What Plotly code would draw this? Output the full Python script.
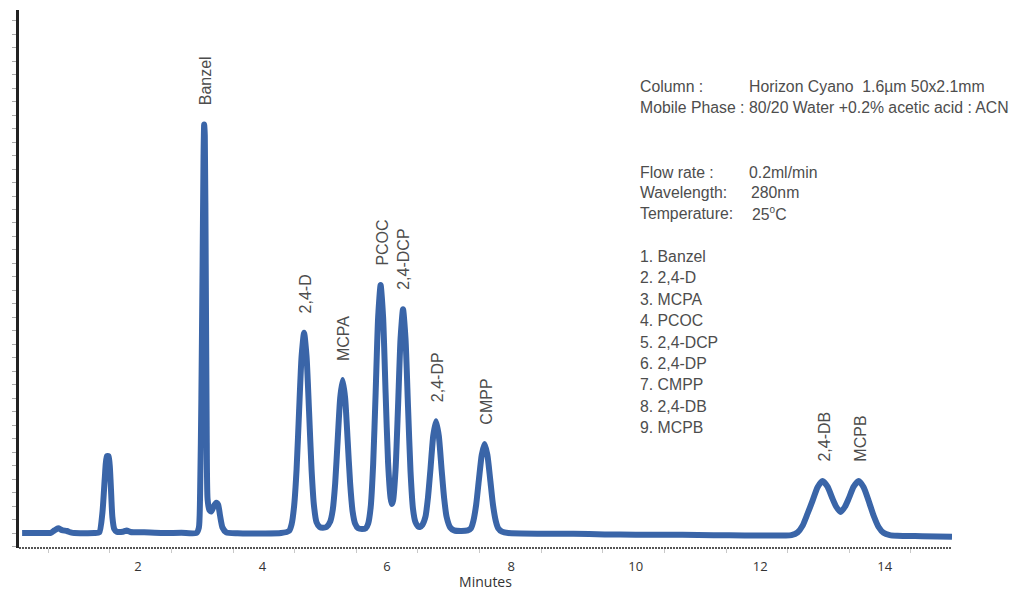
import plotly.graph_objects as go

# 크로마토그램 트레이스 (분, 신호)
time_min = [0.14, 0.40, 0.60, 0.66, 0.72, 0.78, 0.86, 0.92, 0.98, 1.30,
            1.38, 1.43, 1.47, 1.50, 1.53, 1.56, 1.59, 1.62, 1.66, 1.76,
            1.82, 1.88, 2.10, 2.40, 2.70, 2.94, 2.98, 3.00, 3.02, 3.04,
            3.055, 3.065, 3.075, 3.09, 3.105, 3.12, 3.15, 3.18, 3.22, 3.26,
            3.29, 3.32, 3.36, 3.42, 3.60, 4.00, 4.30, 4.43, 4.47, 4.51,
            4.55, 4.59, 4.63, 4.67, 4.71, 4.75, 4.79, 4.83, 4.87, 4.92,
            4.97, 5.03, 5.09, 5.13, 5.17, 5.21, 5.25, 5.29, 5.33, 5.37,
            5.41, 5.45, 5.49, 5.54, 5.60, 5.66, 5.70, 5.74, 5.78, 5.82,
            5.86, 5.90, 5.94, 5.98, 6.02, 6.06, 6.08, 6.10, 6.14, 6.18,
            6.22, 6.26, 6.30, 6.34, 6.38, 6.42, 6.46, 6.50, 6.53, 6.57,
            6.62, 6.66, 6.70, 6.745, 6.79, 6.835, 6.88, 6.92, 6.96, 7.02,
            7.08, 7.20, 7.30, 7.35, 7.39, 7.435, 7.48, 7.525, 7.57, 7.615,
            7.66, 7.705, 7.75, 7.79, 7.85, 7.95, 8.50, 9.00, 9.50, 10.00,
            10.50, 11.00, 11.50, 12.00, 12.40, 12.50, 12.60, 12.68, 12.76, 12.84,
            12.92, 13.00, 13.08, 13.16, 13.22, 13.29, 13.36, 13.42, 13.50, 13.58,
            13.66, 13.74, 13.82, 13.90, 13.98, 14.08, 14.20, 14.60, 15.08]
signal = [0.0, 0.0, 0.02, 0.2, 0.35, 0.22, 0.15, 0.05, 0.0, 0.0,
          0.05, 1.5, 4.2, 5.7, 5.7, 4.0, 1.2, 0.3, 0.1, 0.1,
          0.18, 0.08, 0.05, 0.0, 0.02, 0.0, 0.4, 3.0, 10.0, 20.0,
          28.0, 30.3, 29.5, 20.0, 8.0, 2.5, 1.7, 1.6, 2.0, 2.25,
          2.1, 1.3, 0.4, 0.05, -0.02, -0.03, 0.0, 0.16, 0.65, 2.0,
          4.75, 9.05, 13.1, 14.85, 13.1, 9.05, 4.75, 2.0, 0.8, 0.45,
          0.4, 0.45, 0.85, 1.7, 3.7, 6.9, 10.0, 11.36, 10.0, 6.9,
          3.7, 1.6, 0.7, 0.35, 0.3, 0.35, 0.7, 1.9, 5.1, 10.4,
          16.0, 18.4, 16.0, 10.4, 5.2, 2.6, 2.15, 2.4, 4.7, 9.4,
          14.4, 16.6, 14.4, 9.4, 4.6, 1.8, 0.8, 0.5, 0.45, 0.6,
          1.2, 2.6, 4.7, 7.2, 8.3, 7.2, 4.7, 2.6, 1.2, 0.4,
          0.2, 0.15, 0.2, 0.35, 0.9, 2.1, 4.0, 5.8, 6.6, 5.8,
          4.0, 2.1, 0.9, 0.35, 0.1, 0.0, -0.05, -0.06, -0.1, -0.12,
          -0.12, -0.15, -0.17, -0.18, -0.19, -0.16, 0.05, 0.55, 1.45, 2.4,
          3.4, 3.86, 3.44, 2.55, 1.95, 1.56, 1.95, 2.55, 3.44, 3.86,
          3.4, 2.4, 1.3, 0.45, 0.02, -0.15, -0.2, -0.23, -0.27]

# 피크 라벨
peak_names = ['Banzel', '2,4-D', 'MCPA', 'PCOC', '2,4-DCP', '2,4-DP', 'CMPP', '2,4-DB', 'MCPB']
peak_rt = [3.065, 4.67, 5.29, 5.90, 6.26, 6.79, 7.57, 13.00, 13.58]
peak_height = [30.3, 14.85, 11.36, 18.4, 16.6, 8.3, 6.6, 3.86, 3.86]

# 분석 조건
cond_labels = ['Column :', 'Mobile Phase : 80/20 Water +0.2% acetic acid : ACN',
               'Flow rate :', 'Wavelength:', 'Temperature:']
cond_values = ['Horizon Cyano  1.6µm 50x2.1mm', '', '0.2ml/min', '280nm',
               '25<sup><span style="font-size:10px">o</span></sup>C']

x_ticks = [2, 4, 6, 8, 10, 12, 14]

# 페이지 body 여백(8px) 보정
OFF = 8
W, H = 1020 - OFF, 591 - OFF
L, R, T, B = 19 - OFF, 68, 10 - OFF, 43
pw, ph = W - L - R, H - T - B


def px(x):
    return (x - OFF - L) / pw


def py(y):
    return (H + OFF - B - y) / ph


fig = go.Figure()
fig.add_trace(go.Scatter(x=time_min, y=signal, mode='lines',
                         line=dict(color='#3a65a8', width=6, shape='spline', smoothing=0.6),
                         hoverinfo='skip', showlegend=False))

text_font = dict(family='Liberation Sans, Arial', size=15.8, color='#4d4d4d')

for name, rt, h in zip(peak_names, peak_rt, peak_height):
    fig.add_annotation(x=rt, y=h, text=name, showarrow=False, textangle=-90,
                       xanchor='center', yanchor='bottom', yshift=17, xshift=1,
                       font=dict(family='Liberation Sans, Arial', size=16, color='#4d4d4d'))

cond_y = [86, 107.5, 172.5, 192, 213.5]
cond_vx = [747, 747, 747, 749, 750]
for lab, val, yy, vx in zip(cond_labels, cond_values, cond_y, cond_vx):
    fig.add_annotation(xref='paper', yref='paper', x=px(638), y=py(yy), text=lab,
                       showarrow=False, xanchor='left', yanchor='middle', font=text_font)
    if val:
        fig.add_annotation(xref='paper', yref='paper', x=px(vx), y=py(yy), text=val,
                           showarrow=False, xanchor='left', yanchor='middle', font=text_font)

for i, name in enumerate(peak_names):
    fig.add_annotation(xref='paper', yref='paper', x=px(638), y=py(256.5 + 21.4 * i),
                       text=f'{i + 1}. {name}', showarrow=False,
                       xanchor='left', yanchor='middle', font=text_font)

# 점선 x축
fig.add_shape(type='line', xref='paper', yref='paper', x0=0, x1=1, y0=0, y1=0,
              line=dict(color='#555555', width=2, dash='2px,1px'))

fig.update_layout(
    width=W, height=H,
    margin=dict(l=L, r=R, t=T, b=B),
    plot_bgcolor='white', paper_bgcolor='white',
    xaxis=dict(range=[0.09, 15.08], tickmode='array', tickvals=x_ticks,
               ticks='', showgrid=False, zeroline=False, showline=False,
               automargin=False,
               tickfont=dict(family='Open Sans', size=13, color='#333'),
               ticklabelstandoff=9,
               minor=dict(ticks='outside', ticklen=4, tickcolor='#c8c8c8',
                          tickmode='linear', tick0=0.56, dtick=0.99),
               title=dict(text='Minutes', standoff=6,
                          font=dict(family='Open Sans', size=14, color='#333'))),
    yaxis=dict(range=[-1.11, 38.8], showticklabels=False, ticks='outside',
               tickmode='linear', tick0=0, dtick=1, ticklen=4, tickcolor='#aaaaaa',
               showline=True, linecolor='#222222', linewidth=3,
               showgrid=False, zeroline=False, automargin=False),
)

fig.write_html("out.html")
